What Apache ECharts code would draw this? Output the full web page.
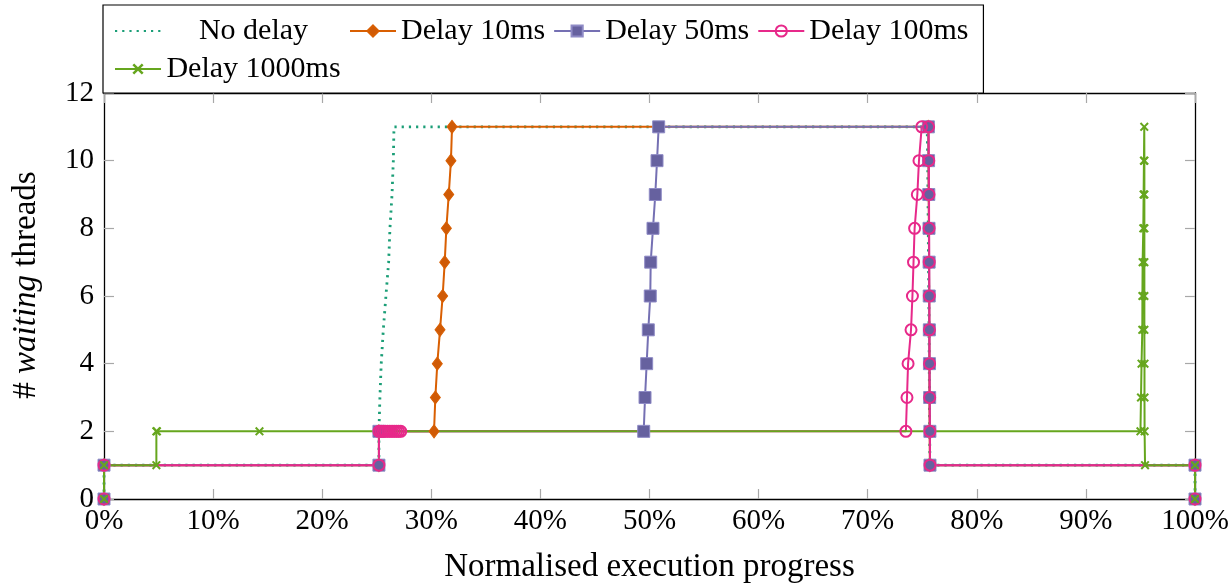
<!DOCTYPE html>
<html>
<head>
<meta charset="utf-8">
<script src="https://cdn.jsdelivr.net/npm/echarts@6/dist/echarts.min.js"></script>
<style>
  html, body { margin: 0; padding: 0; background: #ffffff; }
  #chart { width: 1231px; height: 585px; }
</style>
</head>
<body>
<div id="chart"></div>
<script>
// Number of waiting threads against normalised execution progress (%)
const seriesNames = ['No delay', 'Delay 10ms', 'Delay 50ms', 'Delay 100ms', 'Delay 1000ms'];

const noDelayX = [0, 0, 25.2, 25.2, 25.29, 25.41, 25.6, 25.84, 26.09, 26.21, 26.4, 26.52, 26.58,
  75.45, 75.5, 75.52, 75.55, 75.57, 75.6, 75.62, 75.64, 75.66, 75.68, 75.7, 100, 100];
const noDelayY = [0, 1, 1, 2, 3, 4, 5, 6, 7, 8, 9, 10, 11,
  11, 10, 9, 8, 7, 6, 5, 4, 3, 2, 1, 1, 0];

const delay10X = [0, 0, 25.2, 25.2, 30.25, 30.37, 30.55, 30.8, 31.04, 31.23, 31.38, 31.6, 31.8, 31.9,
  75.55, 75.57, 75.59, 75.61, 75.62, 75.63, 75.64, 75.65, 75.66, 75.68, 75.7, 100, 100];
const delay10Y = [0, 1, 1, 2, 2, 3, 4, 5, 6, 7, 8, 9, 10, 11,
  11, 10, 9, 8, 7, 6, 5, 4, 3, 2, 1, 1, 0];

const delay50X = [0, 0, 25.2, 25.2, 49.47, 49.59, 49.74, 49.89, 50.07, 50.11, 50.32, 50.53, 50.69, 50.84,
  75.56, 75.58, 75.6, 75.62, 75.63, 75.64, 75.65, 75.66, 75.68, 75.7, 75.71, 100, 100];
const delay50Y = [0, 1, 1, 2, 2, 3, 4, 5, 6, 7, 8, 9, 10, 11,
  11, 10, 9, 8, 7, 6, 5, 4, 3, 2, 1, 1, 0];

const delay100X = [0, 0, 25.2, 25.2, 25.4, 25.6, 25.8, 26.0, 26.2, 26.4, 26.6, 26.8, 27.0, 27.2,
  73.5, 73.6, 73.7, 73.97, 74.1, 74.2, 74.3, 74.55, 74.7, 74.95,
  75.58, 75.6, 75.62, 75.63, 75.64, 75.65, 75.66, 75.67, 75.68, 75.7, 75.71, 100, 100];
const delay100Y = [0, 1, 1, 2, 2, 2, 2, 2, 2, 2, 2, 2, 2, 2,
  2, 3, 4, 5, 6, 7, 8, 9, 10, 11,
  11, 10, 9, 8, 7, 6, 5, 4, 3, 2, 1, 1, 0];

const delay1000X = [0, 0, 4.8, 4.8, 4.85, 14.25,
  95.0, 95.05, 95.1, 95.17, 95.18, 95.2, 95.26, 95.29, 95.32, 95.35,
  95.36, 95.36, 95.36, 95.36, 95.36, 95.36, 95.37, 95.37, 95.38, 95.42, 100, 100];
const delay1000Y = [0, 1, 1, 2, 2, 2,
  2, 3, 4, 5, 6, 7, 8, 9, 10, 11,
  10, 9, 8, 7, 6, 5, 4, 3, 2, 1, 1, 0];

const xTickValues = [0, 10, 20, 30, 40, 50, 60, 70, 80, 90, 100];
const yTickValues = [0, 2, 4, 6, 8, 10, 12];

const FONT = '"Liberation Serif", "Times New Roman", serif';
const colors = ['#1b9e77', '#d95f02', '#7570b3', '#e7298a', '#66a61e'];
const crossPath = 'path://M0,1.6L1.6,0L5,3.4L8.4,0L10,1.6L6.6,5L10,8.4L8.4,10L5,6.6L1.6,10L0,8.4L3.4,5Z';

function zip(xs, ys) {
  return xs.map((x, i) => [x, ys[i]]);
}

const xStep = xTickValues[1] - xTickValues[0];
const yStep = yTickValues[1] - yTickValues[0];

function axisCommon(isX, showLabels) {
  const vals = isX ? xTickValues : yTickValues;
  return {
    type: 'value',
    min: vals[0],
    max: vals[vals.length - 1],
    interval: isX ? xStep : yStep,
    axisLine: { show: true, onZero: false, lineStyle: { color: '#000', width: 1.3 } },
    axisTick: { show: true, inside: true, length: 10, lineStyle: { color: '#a8a8a8', width: 1.2 } },
    splitLine: { show: false },
    axisLabel: {
      show: showLabels,
      color: '#000',
      fontFamily: FONT,
      fontSize: 29,
      margin: isX ? 8 : 10,
      showMinLabel: true,
      showMaxLabel: true,
      formatter: isX ? (v => v + '%') : (v => String(v))
    }
  };
}

// legend entries; the plain dotted series shows only its line sample
const legendData = seriesNames.map((name, i) => i === 0
  ? { name: name, itemStyle: { opacity: 0, color: 'rgba(0,0,0,0)', borderWidth: 0 } }
  : { name: name });

const chart = echarts.init(document.getElementById('chart'), null, { renderer: 'canvas' });

const option = {
  backgroundColor: '#ffffff',
  animation: false,
  grid: { left: 104, right: 36, top: 93, bottom: 86, containLabel: false, outerBoundsMode: 'none' },
  legend: {
    left: 103,
    top: 5,
    width: 900,
    orient: 'horizontal',
    itemWidth: 46,
    itemHeight: 14,
    itemGap: 8,
    padding: [11, 15, 9, 11],
    borderColor: '#000',
    borderWidth: 1.2,
    borderRadius: 0,
    backgroundColor: '#fff',
    selectedMode: false,
    data: legendData,
    formatter: name => (name === seriesNames[0] || name === seriesNames[4]) ? '{w|' + name + '}' : name,
    textStyle: {
      color: '#000',
      fontFamily: FONT,
      fontSize: 30,
      lineHeight: 28,
      rich: {
        w: { width: 175, align: 'center', color: '#000', fontFamily: FONT, fontSize: 30, lineHeight: 28 }
      }
    }
  },
  xAxis: [
    Object.assign(axisCommon(true, true), {
      position: 'bottom',
      name: 'Normalised execution progress',
      nameLocation: 'middle',
      nameGap: 52,
      nameTextStyle: { color: '#000', fontFamily: FONT, fontSize: 33 }
    }),
    Object.assign(axisCommon(true, false), { position: 'top' })
  ],
  yAxis: [
    Object.assign(axisCommon(false, true), {
      position: 'left',
      name: '# {i|waiting} threads',
      nameLocation: 'middle',
      nameGap: 61,
      nameTextStyle: {
        color: '#000', fontFamily: FONT, fontSize: 33,
        padding: [0, 0, 0, 22],
        rich: { i: { fontStyle: 'italic', color: '#000', fontFamily: FONT, fontSize: 33 } }
      }
    }),
    Object.assign(axisCommon(false, false), { position: 'right' })
  ],
  series: [
    {
      name: seriesNames[0],
      type: 'line',
      data: zip(noDelayX, noDelayY),
      symbol: 'none',
      clip: false,
      color: colors[0],
      lineStyle: { color: colors[0], width: 2.8, type: [2.2, 5], cap: 'butt' }
    },
    {
      name: seriesNames[1],
      type: 'line',
      data: zip(delay10X, delay10Y),
      symbol: 'diamond',
      symbolSize: [10, 13],
      clip: false,
      color: colors[1],
      itemStyle: { color: '#cf5a06', borderColor: colors[1], borderWidth: 1 },
      lineStyle: { color: colors[1], width: 2 }
    },
    {
      name: seriesNames[2],
      type: 'line',
      data: zip(delay50X, delay50Y),
      symbol: 'rect',
      symbolSize: 12,
      clip: false,
      color: colors[2],
      itemStyle: { color: '#66619f', borderColor: '#8f8bc6', borderWidth: 1 },
      lineStyle: { color: colors[2], width: 2 }
    },
    {
      name: seriesNames[3],
      type: 'line',
      data: zip(delay100X, delay100Y),
      symbol: 'circle',
      symbolSize: 11,
      clip: false,
      color: colors[3],
      itemStyle: { color: 'rgba(255,255,255,0)', borderColor: colors[3], borderWidth: 2 },
      lineStyle: { color: colors[3], width: 2 }
    },
    {
      name: seriesNames[4],
      type: 'line',
      data: zip(delay1000X, delay1000Y),
      symbol: crossPath,
      symbolSize: 9,
      clip: false,
      color: colors[4],
      itemStyle: { color: colors[4] },
      lineStyle: { color: colors[4], width: 2 }
    }
  ]
};

chart.setOption(option);
</script>
</body>
</html>
